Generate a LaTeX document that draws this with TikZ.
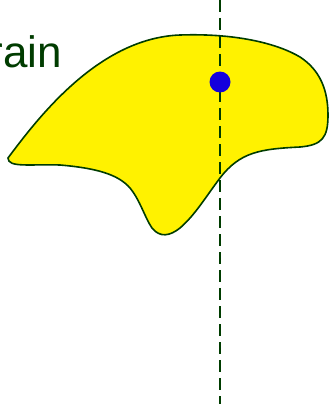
\documentclass[tikz,border=0pt]{standalone}
\usepackage{fontspec}
\setmainfont{Liberation Sans}
\definecolor{darkgreen}{RGB}{0,60,0}
\definecolor{dotblue}{RGB}{20,0,220}
\begin{document}
\begin{tikzpicture}[
                x=1pt, y=-1pt,
                outline/.style={draw=darkgreen, line width=1.6pt, fill=yellow},
                axisline/.style={draw=darkgreen, line width=1.6pt, dash pattern=on 12pt off 6pt},
                label/.style={text=darkgreen, font=\fontsize{44}{50}\selectfont, inner sep=0pt}
            ]
                \useasboundingbox (0,0) rectangle (330,404);
                
                % Label (cut at the left edge)
                \node[label, anchor=base east] (lbl) at (62,67) {rain};
                
                % Yellow region
                \draw[outline] (8,158) .. controls (40,115) and (100,38) .. (180,35)
                    .. controls (240,33) and (280,45) .. (300,57)
                    .. controls (320,70) and (328,90) .. (328,115)
                    .. controls (328,138) and (322,145) .. (300,147)
                    .. controls (260,149) and (240,152) .. (220,178)
                    .. controls (205,198) and (195,215) .. (180,228)
                    .. controls (170,236) and (160,238) .. (152,228)
                    .. controls (145,218) and (140,200) .. (130,188)
                    .. controls (118,174) and (95,168) .. (60,165)
                    .. controls (30,164) and (8,168) .. cycle;
                
                % Vertical dashed line
                \coordinate (top) at (220,0);
                \coordinate (bottom) at (220,404);
                \draw[axisline] (top) -- (bottom);
                
                % Point
                \node[circle, fill=dotblue, minimum size=21pt, inner sep=0pt] (pt) at (220,82) {};
            \end{tikzpicture}
\end{document}
